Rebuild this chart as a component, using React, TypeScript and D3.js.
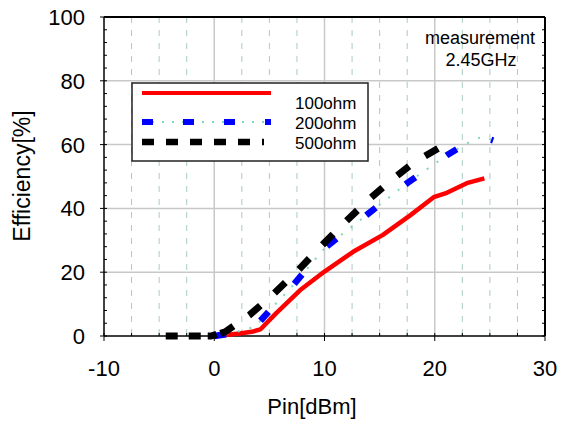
import React from "react";
import * as d3 from "d3";

const xTicks = [-10, 0, 10, 20, 30];
const yTicks = [0, 20, 40, 60, 80, 100];
const xMinor = d3.range(-10, 30.01, 2.5);
const yMinor = d3.range(0, 100.01, 4);

const pin100 = [0, 1, 2.3, 3.4, 4.2, 5.6, 7.8, 10, 12.6, 15.3, 17.8, 19.9, 21.1, 22.9, 24.5];
const eff100 = [0, 0.3, 0.8, 1.3, 2.1, 7.1, 14.4, 20.2, 26.4, 31.7, 37.9, 43.5, 44.9, 47.9, 49.4];

const pin200 = [0, 1.5, 3.7, 5.6, 6.9, 10, 13.8, 17.5, 21.1, 22.8, 24.3, 25.3];
const eff200 = [0, 0.8, 2.9, 10.2, 14.9, 27.5, 37.9, 47.9, 56.7, 60.2, 62.5, 61.3];

const pin500 = [-4.4, -0.3, 1, 3.2, 5.1, 7.5, 9.5, 11.6, 13.8, 15.9, 18, 20.3, 20.8];
const eff500 = [0, 0, 1.3, 6.6, 12.3, 20.2, 27.5, 34.8, 42.1, 48.4, 54.1, 58.8, 59.9];

const legendLabels = ["100ohm", "200ohm", "500ohm"];

const W = 563;
const H = 423;
const L = 104, R = 545, T = 17, B = 336;
const FONT = "'Liberation Sans', Arial, sans-serif";

export default function App() {
  const x = d3.scaleLinear().domain([-10, 30]).range([L, R]);
  const y = d3.scaleLinear().domain([0, 100]).range([B, T]);
  const line = d3
    .line<[number, number]>()
    .x((d) => x(d[0]))
    .y((d) => y(d[1]));
  const zip = (a: number[], b: number[]) => a.map((v, i) => [v, b[i]] as [number, number]);
  const p100 = line(zip(pin100, eff100)) || "";
  const p200 = line(zip(pin200, eff200)) || "";
  const p500 = line(zip(pin500, eff500)) || "";

  // black dash: short squares on the flat start, then longer dashes along the rise
  const blackDash = [12, 11, 12, 7, 9, 4].concat(d3.range(14).flatMap(() => [15, 19])).join(" ");

  const majorX = xTicks.filter((t) => t !== -10 && t !== 30);
  const dashedX = xMinor.filter((t) => t % 10 !== 0);
  const majorY = yTicks.filter((t) => t !== 0 && t !== 100);

  return (
    <svg width={W} height={H} style={{ position: "absolute", left: 0, top: 0, background: "#fff" }}>
      {/* grid */}
      {dashedX.map((t) => (
        <line key={"dx" + t} x1={x(t)} x2={x(t)} y1={T} y2={B} stroke="#a9cbc1" strokeWidth={1} strokeDasharray="6 7" />
      ))}
      {majorX.map((t) => (
        <line key={"mx" + t} x1={x(t)} x2={x(t)} y1={T} y2={B} stroke="#c8c8c8" strokeWidth={1.5} />
      ))}
      {majorY.map((t) => (
        <line key={"my" + t} x1={L} x2={R} y1={y(t)} y2={y(t)} stroke="#c8c8c8" strokeWidth={1.5} />
      ))}

      {/* minor ticks */}
      {yMinor.map((t) => (
        <g key={"ym" + t}>
          <line x1={L} x2={L + 3} y1={y(t)} y2={y(t)} stroke="#000" strokeWidth={1} />
          <line x1={R - 3} x2={R} y1={y(t)} y2={y(t)} stroke="#000" strokeWidth={1} />
        </g>
      ))}
      {xMinor.map((t) => (
        <line key={"xm" + t} x1={x(t)} x2={x(t)} y1={B - 3} y2={B} stroke="#000" strokeWidth={1} />
      ))}
      {/* major ticks outward */}
      {yTicks.map((t) => (
        <line key={"yt" + t} x1={L - 4} x2={L} y1={y(t)} y2={y(t)} stroke="#000" strokeWidth={1} />
      ))}
      {xTicks.map((t) => (
        <line key={"xt" + t} x1={x(t)} x2={x(t)} y1={B} y2={B + 5} stroke="#000" strokeWidth={1} />
      ))}

      {/* frame */}
      <line x1={L} x2={R} y1={T} y2={T} stroke="#000" strokeWidth={2} />
      <line x1={R} x2={R} y1={T} y2={B} stroke="#000" strokeWidth={2} />
      <line x1={L} x2={L} y1={T} y2={B} stroke="#000" strokeWidth={1.5} />
      <line x1={L} x2={R} y1={B} y2={B} stroke="#000" strokeWidth={1.5} />

      {/* series */}
      <path d={p100} fill="none" stroke="#ff0000" strokeWidth={4.5} strokeLinejoin="round" />
      <path d={p200} fill="none" stroke="#7fd6c0" strokeWidth={2} strokeDasharray="2 10" />
      <path d={p200} fill="none" stroke="#0000ff" strokeWidth={6.5} strokeDasharray="12 38" />
      <path d={p500} fill="none" stroke="#000" strokeWidth={7} strokeDasharray={blackDash} />

      {/* tick labels */}
      {yTicks.map((t) => (
        <text key={"yl" + t} x={85} y={y(t)} dy="0.36em" textAnchor="end" fontFamily={FONT} fontSize={22} fill="#000">
          {t}
        </text>
      ))}
      {xTicks.map((t) => (
        <text key={"xl" + t} x={x(t)} y={376} textAnchor="middle" fontFamily={FONT} fontSize={22} fill="#000">
          {t}
        </text>
      ))}

      {/* axis titles */}
      <text x={312} y={414} textAnchor="middle" fontFamily={FONT} fontSize={22} fill="#000">
        Pin[dBm]
      </text>
      <text
        transform={`translate(30,176) rotate(-90)`}
        textAnchor="middle"
        fontFamily={FONT}
        fontSize={23}
        fill="#000"
      >
        Efficiency[%]
      </text>

      {/* annotation */}
      <text x={480} y={44} textAnchor="middle" fontFamily={FONT} fontSize={18} fill="#000">
        measurement
      </text>
      <text x={481} y={66} textAnchor="middle" fontFamily={FONT} fontSize={18} fill="#000">
        2.45GHz
      </text>

      {/* legend */}
      <rect x={132} y={83} width={236} height={78} fill="#fff" stroke="#222" strokeWidth={1.5} />
      <line x1={142} x2={271} y1={93} y2={93} stroke="#ff0000" strokeWidth={4} />
      <line x1={142} x2={271} y1={122} y2={122} stroke="#7fd6c0" strokeWidth={2} strokeDasharray="2 8" strokeDashoffset={-10} />
      <line x1={142} x2={271} y1={122} y2={122} stroke="#0000ff" strokeWidth={6} strokeDasharray="11 30" />
      <line x1={142} x2={264} y1={142} y2={142} stroke="#000" strokeWidth={6.5} strokeDasharray="12 12" />
      {legendLabels.map((s, i) => (
        <text key={s} x={295} y={103 + i * 20} dy="0.36em" fontFamily={FONT} fontSize={17} fill="#000">
          {s}
        </text>
      ))}
    </svg>
  );
}
